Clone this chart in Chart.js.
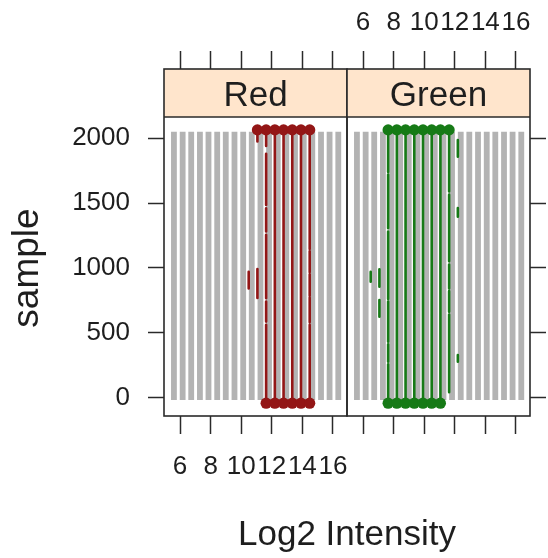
<!DOCTYPE html>
<html>
<head>
<meta charset="utf-8">
<script src="https://cdn.jsdelivr.net/npm/chart.js@4/dist/chart.umd.min.js"></script>
<style>
  html, body { margin: 0; padding: 0; background: #ffffff; }
  #wrap { position: relative; width: 548px; height: 558px; overflow: hidden; background: #ffffff; }
  #wrap canvas { position: absolute; left: 0; top: 0; }
</style>
</head>
<body>
<div id="wrap">
  <canvas id="cRed" width="548" height="558"></canvas>
  <canvas id="cGreen" width="548" height="558"></canvas>
</div>
<script>
// ---------------- data ----------------
const panelNames = ['Red', 'Green'];
const xTitle = 'Log2 Intensity';
const yTitle = 'sample';
const xTicks = [6, 8, 10, 12, 14, 16];
const yTicks = [0, 500, 1000, 1500, 2000];

// gray background columns (Log2 intensity positions) and their sample extent
const grayX = [5.60, 6.17, 6.73, 7.30, 7.86, 8.43, 8.99, 9.56, 10.13, 10.69,
               11.26, 11.82, 12.39, 12.95, 13.52, 14.09, 14.65, 15.22, 15.78, 16.35];
const graySpan = [-20, 2050];

// Red channel columns and the sample ranges they cover
const redX = [10.49, 11.06, 11.63, 12.20, 12.77, 13.34, 13.91, 14.48];
const redSegments = [
  [[840, 970]],
  [[767, 991], [1975, 2065]],
  [[-45, 560], [585, 740], [765, 1255], [1280, 1460], [1485, 1880], [1940, 2065]],
  [[-45, 2065]],
  [[-45, 2065]],
  [[-45, 2065]],
  [[-45, 2065]],
  [[-45, 560], [580, 770], [785, 950], [965, 1130], [1145, 2065]]
];

// Green channel columns and the sample ranges they cover
const greenX = [6.50, 7.07, 7.64, 8.21, 8.78, 9.35, 9.92, 10.49, 11.06, 11.63, 12.20];
const greenSegments = [
  [[893, 970]],
  [[854, 989], [622, 751]],
  [[-45, 255], [275, 410], [430, 740], [760, 1280], [1305, 1720], [1740, 2065]],
  [[-45, 2065]],
  [[-45, 2065]],
  [[-45, 2065]],
  [[-45, 2065]],
  [[-45, 2065]],
  [[-45, 2065]],
  [[40, 640], [660, 820], [840, 1025], [1050, 1565], [1590, 2065]],
  [[1858, 1987], [1395, 1462], [275, 327]]
];

// ---------------- helpers ----------------
const FONT = "'Liberation Sans', Arial, Helvetica, sans-serif";
const TEXT = '#1e1e1e';
const FRAME = '#2a2a2a';
const X_MIN = 4.95, X_MAX = 16.92;
const Y_MIN = -144, Y_MAX = 2535;

function segmentPoints(xs, segs) {
  const pts = [];
  xs.forEach((x, i) => {
    segs[i].forEach(([a, b]) => {
      pts.push({ x: x, y: a }, { x: x, y: b }, { x: x, y: null });
    });
  });
  return pts;
}
function endCaps(xs, segs) {
  const pts = [];
  xs.forEach((x, i) => {
    const lo = Math.min(...segs[i].map(s => s[0]));
    const hi = Math.max(...segs[i].map(s => s[1]));
    if (hi >= 2060) pts.push({ x: x, y: hi });
    if (lo <= -40) pts.push({ x: x, y: lo });
  });
  return pts;
}
function grayColumns() {
  return segmentPoints(grayX, grayX.map(() => [graySpan]));
}

function datasets(xs, segs, color) {
  return [
    { data: grayColumns(), showLine: true, spanGaps: false, borderColor: '#b3b3b3',
      borderWidth: 5.8, borderCapStyle: 'butt', pointRadius: 0, order: 3 },
    { data: segmentPoints(xs, segs), showLine: true, spanGaps: false, borderColor: color,
      borderWidth: 2.6, borderCapStyle: 'round', pointRadius: 0, order: 2 },
    { data: endCaps(xs, segs), showLine: false, pointRadius: 5.6, pointBackgroundColor: color,
      pointBorderWidth: 0, pointHoverRadius: 5.6, order: 1 }
  ];
}

function xAxis(position, showLabels, size) {
  return {
    type: 'linear', position: position, min: X_MIN, max: X_MAX,
    afterBuildTicks: s => { s.ticks = xTicks.map(v => ({ value: v })); },
    afterFit: s => { s.height = size; },
    grid: { display: true, drawOnChartArea: false, drawTicks: true, tickLength: 18,
            tickWidth: 1.5, tickColor: FRAME },
    border: { display: false },
    ticks: { display: showLabels, autoSkip: false, maxRotation: 0, minRotation: 0,
             padding: position === 'top' ? 13 : 17,
             callback: v => String(v),
             font: { family: FONT, size: 26 }, color: TEXT }
  };
}
function yAxis(position, showLabels, size) {
  return {
    type: 'linear', position: position, min: Y_MIN, max: Y_MAX,
    afterBuildTicks: s => { s.ticks = yTicks.map(v => ({ value: v })); },
    afterFit: s => { s.width = size; },
    grid: { display: true, drawOnChartArea: false, drawTicks: true, tickLength: 16,
            tickWidth: 1.5, tickColor: FRAME },
    border: { display: false },
    ticks: { display: showLabels, padding: 18, callback: v => String(v),
             font: { family: FONT, size: 26 }, color: TEXT }
  };
}

const STRIP_H = 48;
const panelFrame = {
  id: 'panelFrame',
  beforeDatasetsDraw(chart, args, opts) {
    const { ctx, chartArea: a } = chart;
    ctx.save();
    ctx.fillStyle = '#ffe5cc';
    ctx.fillRect(a.left, a.top, a.right - a.left, STRIP_H);
    ctx.restore();
  },
  afterDatasetsDraw(chart, args, opts) {
    const { ctx, chartArea: a } = chart;
    ctx.save();
    ctx.strokeStyle = FRAME;
    ctx.lineWidth = 1.6;
    ctx.strokeRect(a.left, a.top, a.right - a.left, a.bottom - a.top);
    ctx.beginPath();
    ctx.moveTo(a.left, a.top + STRIP_H);
    ctx.lineTo(a.right, a.top + STRIP_H);
    ctx.stroke();
    ctx.fillStyle = TEXT;
    ctx.font = '35px ' + FONT;
    ctx.textAlign = 'center';
    ctx.textBaseline = 'alphabetic';
    ctx.fillText(opts.label, (a.left + a.right) / 2, a.top + 37);
    if (opts.titles) {
      ctx.font = '35px ' + FONT;
      ctx.fillText(xTitle, 347, 545);
      ctx.translate(28, 268);
      ctx.rotate(-Math.PI / 2);
      ctx.font = '37px ' + FONT;
      ctx.textBaseline = 'middle';
      ctx.fillText(yTitle, 0, 0);
    }
    ctx.restore();
  }
};

const common = {
  responsive: false, animation: false, devicePixelRatio: 1,
  plugins: { legend: { display: false }, tooltip: { enabled: false } }
};

new Chart(document.getElementById('cRed'), {
  type: 'scatter',
  data: { datasets: datasets(redX, redSegments, '#931616') },
  options: Object.assign({}, common, {
    layout: { padding: { left: 0, right: 201, top: 0, bottom: 0 } },
    scales: {
      x: xAxis('bottom', true, 142),
      xTop: xAxis('top', false, 69),
      y: yAxis('left', true, 164)
    },
    plugins: Object.assign({}, common.plugins, { panelFrame: { label: panelNames[0], titles: true } })
  }),
  plugins: [panelFrame]
});

new Chart(document.getElementById('cGreen'), {
  type: 'scatter',
  data: { datasets: datasets(greenX, greenSegments, '#167a16') },
  options: Object.assign({}, common, {
    layout: { padding: { left: 347, right: 0, top: 0, bottom: 0 } },
    scales: {
      x: xAxis('bottom', false, 142),
      xTop: xAxis('top', true, 69),
      y: yAxis('right', false, 18)
    },
    plugins: Object.assign({}, common.plugins, { panelFrame: { label: panelNames[1], titles: false } })
  }),
  plugins: [panelFrame]
});
</script>
</body>
</html>
